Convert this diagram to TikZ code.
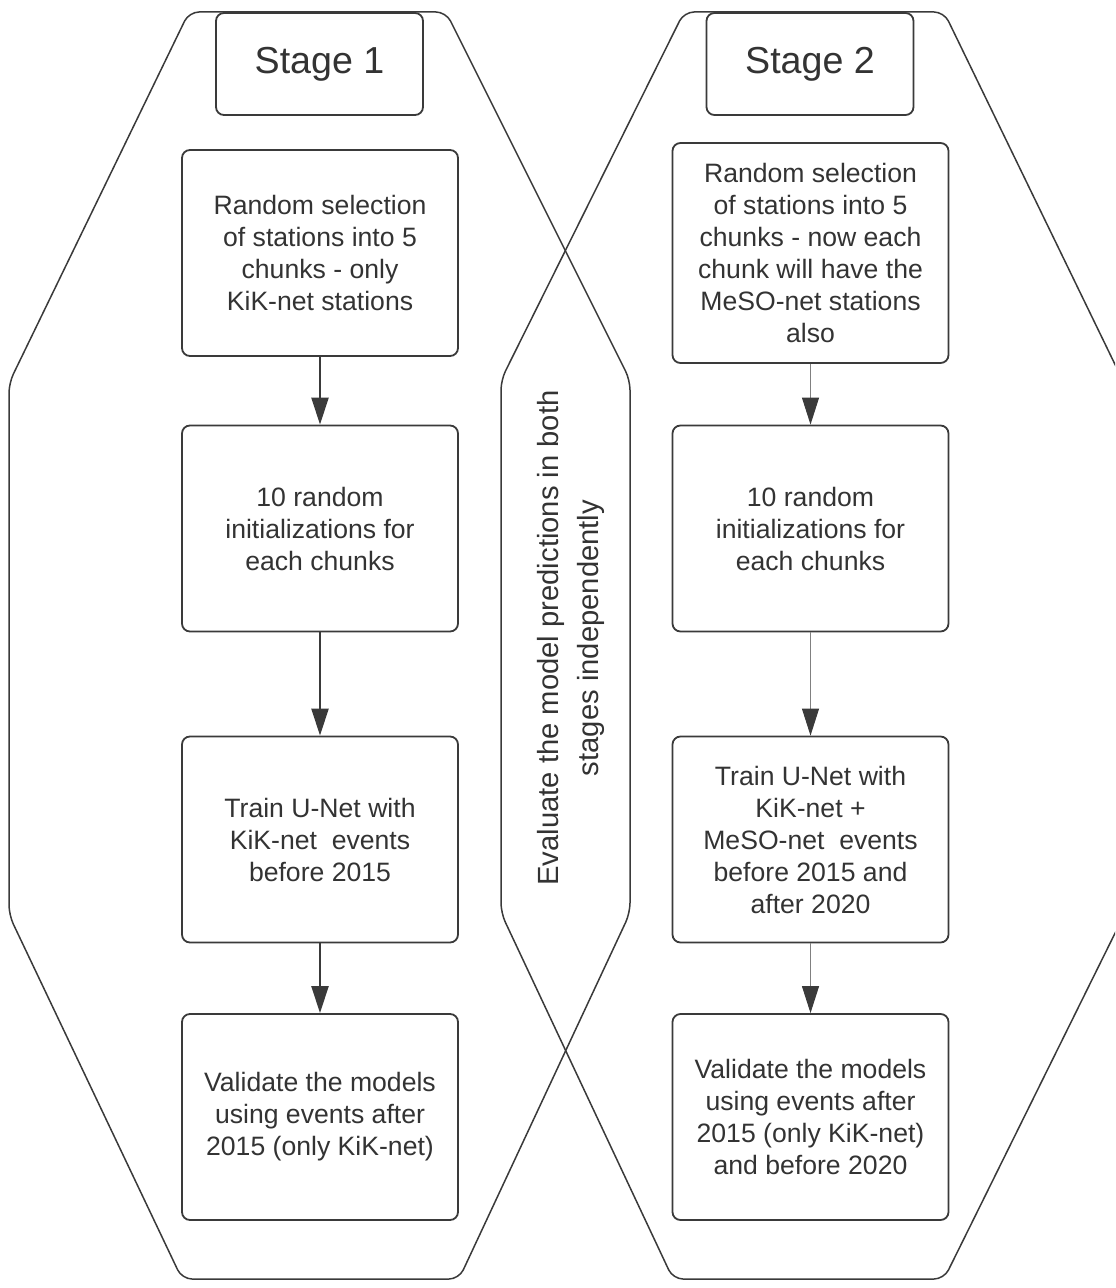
\documentclass[tikz,border=0pt]{standalone}
\usepackage{fontspec}
\setmainfont{Liberation Sans}
\usetikzlibrary{arrows.meta}
\definecolor{ink}{HTML}{333333}
\definecolor{wire}{HTML}{3a3a3a}
\begin{document}
\begin{tikzpicture}[x=0.5pt,y=-0.5pt]
            \tikzset{Box/.style={draw=wire,line width=0.9pt,rounded corners=4pt,inner sep=0pt,minimum width=138pt,minimum height=103pt,align=center,text=ink,font=\fontsize{13.3}{16}\selectfont}}
            \tikzset{Stage/.style={Box,minimum width=103.5pt,minimum height=51pt,font=\fontsize{18.8}{22}\selectfont}}
            \tikzset{Hull/.style={draw=wire,line width=0.75pt,rounded corners=5pt}}
            \tikzset{Arrow/.style={draw=wire,line width=1.1pt,-{Triangle[width=8.5pt,length=13.5pt]}}}
            \tikzset{Thin/.style={draw=gray,line width=0.5pt,-{Triangle[width=8.5pt,length=13.5pt,color=wire]}}}
            \clip (0,0) rectangle (1115,1288);
            % the two stage outlines
            \draw[Hull] (189,12) -- (446,12) -- (630,380) -- (630,913) -- (459,1279) -- (182,1279) -- (9,915) -- (9,383) -- cycle;
            \draw[Hull] (684,12) -- (944,12) -- (1124,383) -- (1124,915) -- (944,1279) -- (673,1279) -- (501,913) -- (501,380) -- cycle;
            % stage 1
            \node[Stage] (s1) at (319.5,64) {Stage 1};
            \node[Box] (a1) at (320,253) {Random selection\\of stations into 5\\chunks - only\\KiK-net stations};
            \node[Box] (a2) at (320,528.5) {10 random\\initializations for\\each chunks};
            \node[Box] (a3) at (320,839.5) {Train U-Net with\\KiK-net \ events\\before 2015};
            \node[Box] (a4) at (320,1117) {Validate the models\\using events after\\2015 (only KiK-net)};
            % stage 2
            \node[Stage] (s2) at (810,64) {Stage 2};
            \node[Box,minimum height=110pt] (b1) at (810.5,253) {Random selection\\of stations into 5\\chunks - now each\\chunk will have the\\MeSO-net stations\\also};
            \node[Box] (b2) at (810.5,528.5) {10 random\\initializations for\\each chunks};
            \node[Box] (b3) at (810.5,839.5) {Train U-Net with\\KiK-net +\\MeSO-net \ events\\before 2015 and\\after 2020};
            \node[Box] (b4) at (810.5,1117) {Validate the models\\using events after\\2015 (only KiK-net)\\and before 2020};
            % shared evaluation
            \node[rotate=90,align=center,text=ink,font=\fontsize{14.6}{20}\selectfont] (ev) at (571,638) {Evaluate the model predictions in both\\stages independently};
            \draw[Arrow] (a1) -- (a2);
            \draw[Arrow] (a2) -- (a3);
            \draw[Arrow] (a3) -- (a4);
            \draw[Thin] (b1) -- (b2);
            \draw[Thin] (b2) -- (b3);
            \draw[Thin] (b3) -- (b4);
        \end{tikzpicture}
\end{document}
